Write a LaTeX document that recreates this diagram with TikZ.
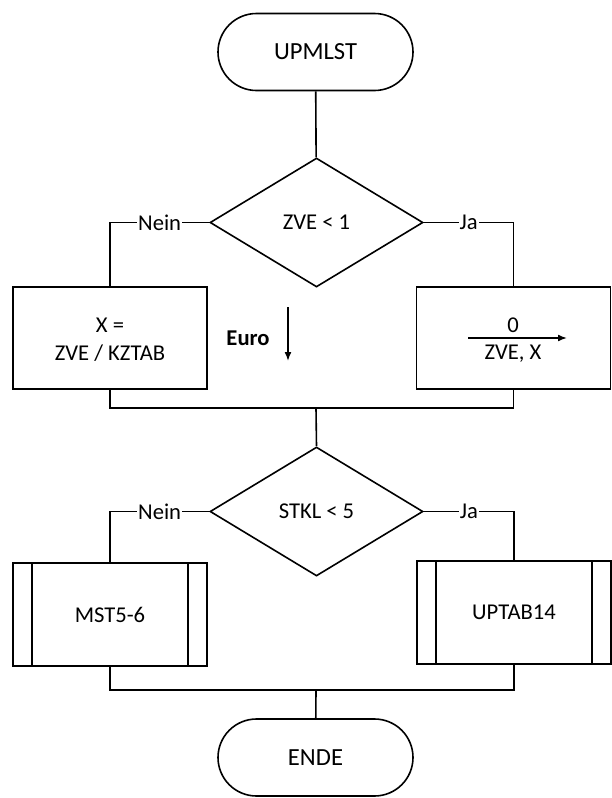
\documentclass[tikz,border=0pt]{standalone}
\usepackage{fontspec}
\setmainfont{Carlito}
\usetikzlibrary{shapes.geometric,arrows.meta}
\begin{document}
\begin{tikzpicture}[x=1pt,y=-1pt,
  every path/.style={line width=1.6pt},
  body/.style={font=\fontsize{22.6}{26}\selectfont},
  term/.style={draw,rectangle,rounded corners=38.5pt,minimum width=195pt,minimum height=77pt,inner sep=0pt,font=\fontsize{24.6}{28}\selectfont},
  decide/.style={draw,diamond,minimum width=213pt,minimum height=129pt,inner sep=0pt,body},
  proc/.style={draw,rectangle,minimum width=194pt,minimum height=102pt,inner sep=0pt,body,align=center},
  lbl/.style={fill=white,inner sep=1pt,body},
  arr/.style={-{Latex[length=9pt,width=7pt]}}
]
\useasboundingbox (0,0) rectangle (612,798);
\node[term] (start) at (315.5,52) {UPMLST};
\node[decide] (d1) at (316.5,222.5) {ZVE < 1};
\node[proc] (b1l) at (110,338) {};
\node[body] (xeq) at (110,325) {X =};
\node[body] (zk) at (110,353) {ZVE / KZTAB};
\node[proc] (b1r) at (513.5,338) {};
\node[body] (zero) at (513,325) {0};
\node[body] (zx) at (513,354) {ZVE, X};
\coordinate (a1) at (468,338);
\coordinate (a2) at (567,338);
\draw[arr] (a1) -- (a2);
\node[body,font=\fontsize{22.6}{26}\selectfont\bfseries] (euro) at (248,338) {Euro};
\coordinate (e1) at (288,307);
\coordinate (e2) at (288,361);
\draw[arr] (e1) -- (e2);
\coordinate (m1) at (316,408);
\node[decide] (d2) at (316.5,511.5) {STKL < 5};
\node[proc,minimum height=103pt] (b2l) at (110,614.5) {MST5-6};
\node[proc,minimum height=103pt] (b2r) at (514,612.5) {UPTAB14};
\foreach \n in {b2l,b2r}{
  \draw ([xshift=20pt]\n.north west) -- ([xshift=20pt]\n.south west);
  \draw ([xshift=-20pt]\n.north east) -- ([xshift=-20pt]\n.south east);
}
\coordinate (m2) at (316,690);
\node[term] (end) at (315.5,757.5) {ENDE};
\draw (start) -- (d1);
\draw (d1.west) -| node[lbl,pos=0.25] {Nein} (b1l.north);
\draw (d1.east) -| node[lbl,pos=0.25] {Ja} (b1r.north);
\draw (b1l.south) |- (m1) -| (b1r.south);
\draw (m1) -- (d2.north);
\draw (d2.west) -| node[lbl,pos=0.25] {Nein} (b2l.north);
\draw (d2.east) -| node[lbl,pos=0.25] {Ja} (b2r.north);
\draw (b2l.south) |- (m2) -| (b2r.south);
\draw (m2) -- (end);
\end{tikzpicture}
\end{document}
